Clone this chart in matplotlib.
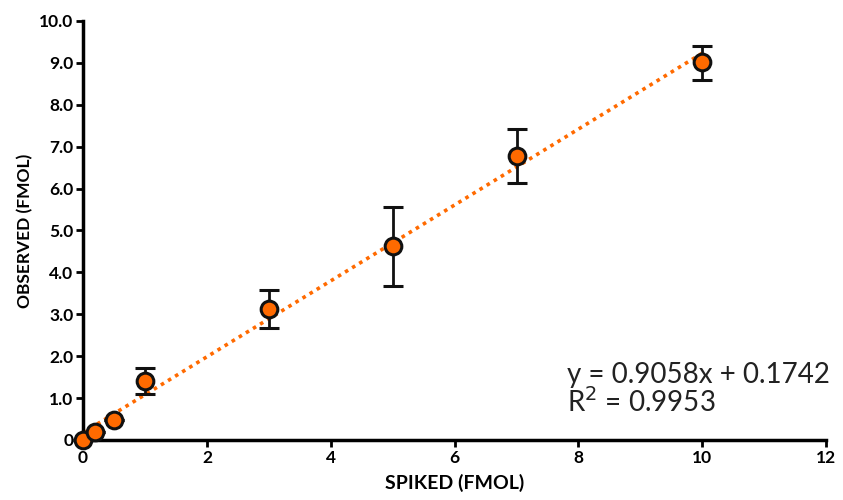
import matplotlib
matplotlib.use("Agg")
import matplotlib.pyplot as plt
import numpy as np

spiked = [0, 0.2, 0.5, 1, 3, 5, 7, 10]
observed = [0.0, 0.2, 0.48, 1.42, 3.12, 4.63, 6.78, 9.02]
err_lo = [0.0, 0.0, 0.0, 0.33, 0.45, 0.95, 0.65, 0.42]
err_hi = [0.0, 0.0, 0.0, 0.30, 0.45, 0.93, 0.64, 0.38]
slope, intercept = 0.9058, 0.1742
fit_range = [0, 10]
xticks = [0, 2, 4, 6, 8, 10, 12]
yticks = [0, 1, 2, 3, 4, 5, 6, 7, 8, 9, 10]
ytick_labels = ["0", "1.0", "2.0", "3.0", "4.0", "5.0", "6.0", "7.0", "8.0", "9.0", "10.0"]

plt.rcParams['font.family'] = ['Lato', 'DejaVu Sans']
fig = plt.figure(figsize=(8.43, 5), dpi=100)
ax = fig.add_axes([0.0985, 0.12, 0.8815, 0.838])

orange = '#FF6A00'
fx = np.array(fit_range)
ax.plot(fx, slope * fx + intercept, linestyle=(0, (1, 1.3)), color=orange, lw=2.6, zorder=2)
ax.errorbar(spiked, observed, yerr=[err_lo, err_hi], fmt='o', color='black',
            ecolor='#111111', elinewidth=2, capsize=7, capthick=2,
            markersize=12, markerfacecolor=orange, markeredgecolor='#111111',
            markeredgewidth=2.2, zorder=3, clip_on=False)

ax.set_xlim(0, 12)
ax.set_ylim(0, 10)
ax.set_xticks(xticks)
ax.set_yticks(yticks)
ax.set_yticklabels(ytick_labels)
for s in ['top', 'right']:
    ax.spines[s].set_visible(False)
for s in ['left', 'bottom']:
    ax.spines[s].set_linewidth(2.5)
ax.tick_params(width=2, length=5, labelsize=12.5, pad=2)
for lab in ax.get_xticklabels() + ax.get_yticklabels():
    lab.set_fontweight('bold')
ax.set_xlabel('SPIKED (FMOL)', fontsize=14, fontweight='bold', labelpad=6)
ax.set_ylabel('OBSERVED (FMOL)', fontsize=12.5, fontweight='bold', labelpad=4)

ax.text(0.651, 0.12, 'y = 0.9058x + 0.1742\nR$^2$ = 0.9953', transform=ax.transAxes,
        fontsize=20, ha='left', va='center', linespacing=0.95, color='#222222')

fig.savefig('out.png', dpi=100)
